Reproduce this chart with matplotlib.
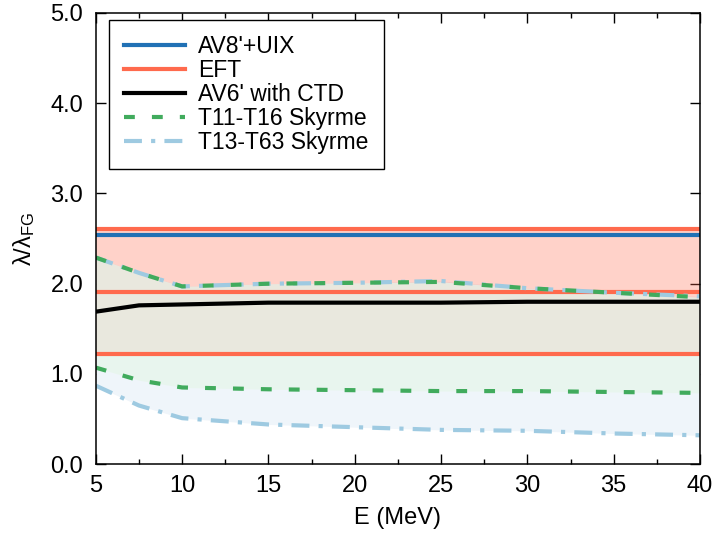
import matplotlib
matplotlib.use("Agg")
import matplotlib.pyplot as plt
import numpy as np

plt.rcParams['font.family'] = ['Liberation Sans', 'DejaVu Sans']
plt.rcParams['mathtext.default'] = 'regular'

# Data
E = [5, 7.5, 10, 15, 20, 25, 30, 35, 40]
av8_uix = 2.54
eft_hi, eft_mid, eft_lo = 2.61, 1.91, 1.22
av6_ctd = [1.69, 1.76, 1.77, 1.79, 1.79, 1.79, 1.80, 1.80, 1.80]
t11_hi = [2.29, 2.12, 1.97, 2.00, 2.01, 2.02, 1.95, 1.90, 1.85]
t11_lo = [1.07, 0.93, 0.85, 0.83, 0.82, 0.81, 0.81, 0.80, 0.79]
t13_hi = [2.29, 2.12, 1.97, 2.00, 2.01, 2.03, 1.95, 1.90, 1.86]
t13_lo = [0.87, 0.65, 0.51, 0.44, 0.41, 0.38, 0.37, 0.34, 0.32]

xticks = [5, 10, 15, 20, 25, 30, 35, 40]
yticks = [0.0, 1.0, 2.0, 3.0, 4.0, 5.0]

c_blue = '#2171b5'
c_red = '#ff6a4d'
c_green = '#41ab5d'
c_lblue = '#9ecae1'

fs = 17

fig = plt.figure(figsize=(7.15, 5.41), dpi=100)
ax = fig.add_axes([0.134, 0.142, 0.845, 0.834])
ax.set_axisbelow(True)

Ea = np.array(E)
ax.fill_between(Ea, t13_lo, t13_hi, color='#eff5fa', lw=0, zorder=1)
ax.fill_between(Ea, eft_lo, eft_hi, color=c_red, alpha=0.3, lw=0, zorder=1.1)
ax.fill_between(Ea, t11_lo, t11_hi, color='#e6f5ea', alpha=0.7, lw=0, zorder=1.2)

lw = 3
ax.plot([E[0], E[-1]], [av8_uix, av8_uix], color=c_blue, lw=lw, label="AV8'+UIX", zorder=3)
ax.plot([E[0], E[-1]], [eft_hi, eft_hi], color=c_red, lw=lw, label="EFT", zorder=3)
ax.plot([E[0], E[-1]], [eft_mid, eft_mid], color=c_red, lw=lw, zorder=3)
ax.plot([E[0], E[-1]], [eft_lo, eft_lo], color=c_red, lw=lw, zorder=3)
ax.plot(E, av6_ctd, color='black', lw=lw, label="AV6' with CTD", zorder=4)
ax.plot(E, t13_hi, color=c_lblue, lw=lw, ls=(0, (4.3, 2.2, 1.0, 2.2)), label="T13-T63 Skyrme", zorder=5)
ax.plot(E, t13_lo, color=c_lblue, lw=lw, ls=(0, (4.3, 2.2, 1.0, 2.2)), zorder=5)
ax.plot(E, t11_hi, color=c_green, lw=lw, ls=(0, (2.6, 4.1)), label="T11-T16 Skyrme", zorder=6)
ax.plot(E, t11_lo, color=c_green, lw=lw, ls=(0, (2.6, 4.1)), zorder=6)

ax.set_xlim(5, 40)
ax.set_ylim(0, 5)
ax.set_xticks(xticks)
ax.set_xticks(np.arange(7.5, 40, 5), minor=True)
ax.set_yticks(yticks)
ax.set_yticklabels([f"{v:.1f}" for v in yticks])
ax.tick_params(which='both', direction='in', top=True, right=True, labelsize=fs, width=1.0)
ax.tick_params(which='major', length=7, pad=9)
ax.tick_params(axis='x', which='major', pad=8)
ax.tick_params(which='minor', length=3.5)
for s in ax.spines.values():
    s.set_linewidth(1.1)
    s.set_zorder(10)

ax.set_xlabel("E (MeV)", fontsize=fs, labelpad=7)
ax.set_ylabel("λ/λ$_\\mathregular{FG}$", fontsize=fs, labelpad=10)

h, l = ax.get_legend_handles_labels()
order = ["AV8'+UIX", "EFT", "AV6' with CTD", "T11-T16 Skyrme", "T13-T63 Skyrme"]
hh = [h[l.index(o)] for o in order]
leg = ax.legend(hh, order, loc='upper left', bbox_to_anchor=(0.0215, 0.9845), fontsize=16.5,
                frameon=True, fancybox=False, edgecolor='black', framealpha=1,
                handlelength=2.66, handletextpad=0.6, labelspacing=0.05, borderpad=0.65,
                borderaxespad=0)
leg.get_frame().set_linewidth(1.0)
leg.set_zorder(20)

fig.savefig("out.png", dpi=100)
